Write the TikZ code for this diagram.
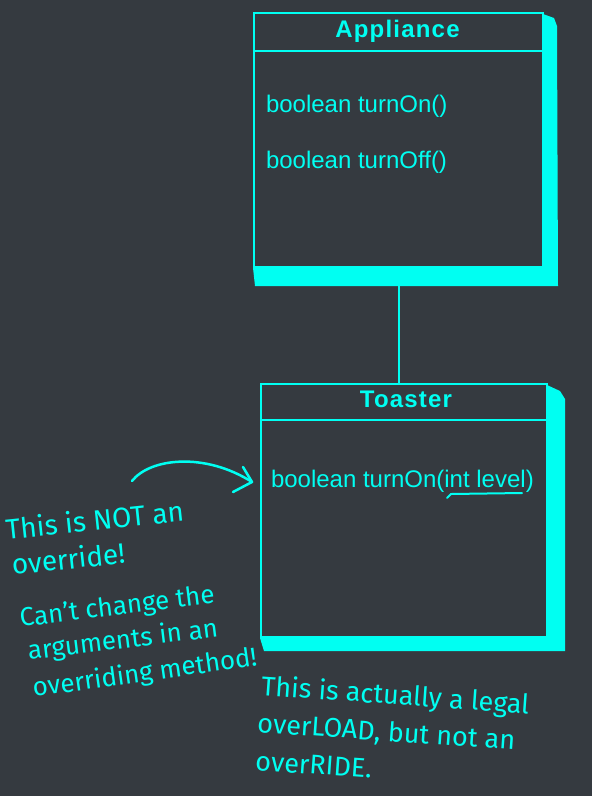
\documentclass[tikz,border=0pt]{standalone}
\usepackage{fontspec}
\setmainfont{Liberation Sans}
\newfontfamily\handfont{Fira Sans}
\usetikzlibrary{positioning,calc}
\definecolor{bgdark}{HTML}{353A40}
\definecolor{uml}{HTML}{00FFF2}

\begin{document}
\begin{tikzpicture}[x=1pt,y=-1pt,line width=2pt]
\tikzstyle{cls} = [draw=uml,shape=rectangle,inner sep=0pt]
\tikzstyle{head} = [text=uml,anchor=base,inner sep=0pt,font=\bfseries\fontsize{24}{24}\selectfont\addfontfeature{LetterSpace=5}]
\tikzstyle{member} = [text=uml,anchor=base west,inner sep=0pt,font=\fontsize{24}{24}\selectfont]
\tikzstyle{note} = [text=uml,anchor=base west,inner sep=0pt,font=\handfont\fontsize{27}{27}\selectfont]
\tikzstyle{hand} = [draw=uml,line width=2.5pt,line cap=round,line join=round]
\fill[bgdark] (0,0) rectangle (592,796);
\useasboundingbox (0,0) rectangle (592,796);
% classes
\node[cls,minimum width=289pt,minimum height=254pt] (app) at (398.5,140) {};
\node[cls,minimum width=286pt,minimum height=253pt] (toast) at (404,510.5) {};
\fill[uml] ($(app.north east)+(-1,2)$) -- ($(app.north east)+(10,6)$) -- ($(app.north east)+(13,14)$)
  -- ($(app.south east)+(14,18)$) -- ($(app.south west)+(2,18)$) -- (app.south west) -- (app.south east) -- cycle;
\fill[uml] ($(toast.north east)+(-1,2)$) -- ($(toast.north east)+(12,8)$) -- ($(toast.north east)+(17,16)$)
  -- ($(toast.south east)+(17,13)$) -- ($(toast.south west)+(4,13)$) -- (toast.south west) -- (toast.south east) -- cycle;
\draw[uml] ($(app.north west)+(0,39)$) -- ($(app.north east)+(0,39)$);
\draw[uml] ($(toast.north west)+(0,37)$) -- ($(toast.north east)+(0,37)$);
\node[head] (apptitle) at (397.5,37) {Appliance};
\node[head] (toasttitle) at (406,407) {Toaster};
\node[member] (turnon) at (265,112) {boolean turnOn()};
\node[member] (turnoff) at (265,168) {boolean turnOff()};
\node[member] (turnonlvl) at (270,487) {boolean turnOn(int level)};
\draw[uml] (app.south) -- (app.south |- toast.north);
% scribbles
\draw[hand,line width=2pt] (447,498) -- (451,494) -- (522,493);
\coordinate (arrstart) at (132,481);
\coordinate (arrtip) at (252,482);
\draw[hand] (arrstart) .. controls (150,458) and (205,452) .. (arrtip);
\draw[hand] ($(arrtip)+(-9,-15)$) -- (arrtip) -- ($(arrtip)+(-19,10)$);
\node[note,rotate=6,font=\handfont\fontsize{28}{28}\selectfont] (n1a) at (6,540) {This is NOT an};
\node[note,rotate=6,font=\handfont\fontsize{28}{28}\selectfont] (n1b) at (12,575) {override!};
\node[note,rotate=7,font=\handfont\fontsize{26}{26}\selectfont] (n2a) at (20,627) {Can’t change the};
\node[note,rotate=7,font=\handfont\fontsize{26}{26}\selectfont] (n2b) at (28,660) {arguments in an};
\node[note,rotate=8,font=\handfont\fontsize{26}{26}\selectfont] (n2c) at (33,697) {overriding method!};
\node[note,rotate=-4] (n3a) at (260,695) {This is actually a legal};
\node[note,rotate=-4] (n3b) at (256,732) {overLOAD, but not an};
\node[note,rotate=-4] (n3c) at (254,770) {overRIDE.};
\end{tikzpicture}
\end{document}
